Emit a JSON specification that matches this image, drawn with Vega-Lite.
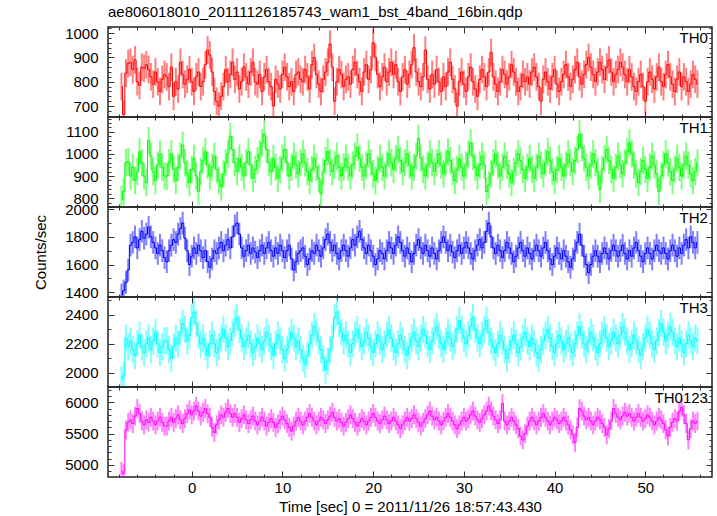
{
"$schema": "https://vega.github.io/schema/vega-lite/v6.json",
"autosize": {"type": "pad"},
"padding": {"left": 32, "top": 5, "right": 0, "bottom": 0},
"background": "white",
"title": {"text": "ae806018010_20111126185743_wam1_bst_4band_16bin.qdp", "anchor": "start", "frame": "group", "fontSize": 15, "fontWeight": "normal", "font": "Liberation Sans", "color": "#000", "offset": 0},
"config": {
  "font": "Liberation Sans",
  "view": {"stroke": "#222", "strokeWidth": 1.5},
  "axis": {"domain": false, "ticks": false, "tickSize": 0, "grid": true, "gridColor": "#333", "gridOpacity": 1, "gridWidth": 1, "labelFont": "Liberation Sans", "labelFontSize": 15, "labelColor": "#000", "labelOverlap": false, "labelFlush": false, "labelBound": false, "titleFont": "Liberation Sans", "titleFontSize": 15, "titleFontWeight": "normal", "titleColor": "#000"},
  "axisX": {"labelPadding": 3, "titlePadding": 4},
  "axisY": {"labelPadding": 10, "titlePadding": 16}
},
"spacing": 0,
"bounds": "flush",
"datasets": {
"err": [{"key": "a", "err": 57}, {"key": "b", "err": 62}, {"key": "c", "err": 82}, {"key": "d", "err": 94}, {"key": "e", "err": 151}],
"labels": [{"key": "a", "lab": "TH0", "lx": 56.9, "ly": 1009}, {"key": "b", "lab": "TH1", "lx": 56.9, "ly": 1149}, {"key": "c", "lab": "TH2", "lx": 56.9, "ly": 1987}, {"key": "d", "lab": "TH3", "lx": 56.9, "ly": 2495}, {"key": "e", "lab": "TH0123", "lx": 56.9, "ly": 6180}],
"lc": [
{"t":-7.75,"a":780,"b":795,"c":1380,"d":1950,"e":4900},
{"t":-7.5,"a":665,"b":830,"c":1410,"d":1980,"e":4860},
{"t":-7.25,"a":835,"b":960,"c":1470,"d":2240,"e":5560},
{"t":-7,"a":875,"b":965,"c":1560,"d":2180,"e":5680},
{"t":-6.75,"a":880,"b":900,"c":1740,"d":2220,"e":5720},
{"t":-6.5,"a":850,"b":940,"c":1760,"d":2160,"e":5660},
{"t":-6.25,"a":890,"b":880,"c":1800,"d":2120,"e":5780},
{"t":-6,"a":800,"b":920,"c":1720,"d":2200,"e":5900},
{"t":-5.75,"a":785,"b":1010,"c":1780,"d":2260,"e":5820},
{"t":-5.5,"a":860,"b":960,"c":1840,"d":2180,"e":5700},
{"t":-5.25,"a":855,"b":900,"c":1790,"d":2140,"e":5640},
{"t":-5,"a":870,"b":870,"c":1820,"d":2200,"e":5720},
{"t":-4.75,"a":850,"b":1060,"c":1870,"d":2240,"e":5680},
{"t":-4.5,"a":820,"b":990,"c":1800,"d":2160,"e":5760},
{"t":-4.25,"a":790,"b":920,"c":1760,"d":2220,"e":5700},
{"t":-4,"a":840,"b":880,"c":1720,"d":2280,"e":5640},
{"t":-3.75,"a":800,"b":950,"c":1680,"d":2200,"e":5700},
{"t":-3.5,"a":760,"b":1000,"c":1740,"d":2140,"e":5760},
{"t":-3.25,"a":810,"b":940,"c":1700,"d":2180,"e":5680},
{"t":-3,"a":830,"b":900,"c":1650,"d":2220,"e":5620},
{"t":-2.75,"a":820,"b":900,"c":1620,"d":2220,"e":5620},
{"t":-2.5,"a":780,"b":960,"c":1700,"d":2160,"e":5700},
{"t":-2.25,"a":860,"b":1000,"c":1740,"d":2100,"e":5760},
{"t":-2,"a":740,"b":930,"c":1780,"d":2180,"e":5680},
{"t":-1.75,"a":800,"b":880,"c":1760,"d":2240,"e":5740},
{"t":-1.5,"a":770,"b":940,"c":1820,"d":2200,"e":5800},
{"t":-1.25,"a":880,"b":990,"c":1860,"d":2280,"e":5720},
{"t":-1,"a":830,"b":1040,"c":1900,"d":2340,"e":5660},
{"t":-0.75,"a":790,"b":960,"c":1790,"d":2300,"e":5740},
{"t":-0.5,"a":810,"b":910,"c":1700,"d":2220,"e":5820},
{"t":-0.25,"a":850,"b":870,"c":1600,"d":2260,"e":5880},
{"t":0,"a":800,"b":930,"c":1660,"d":2380,"e":5800},
{"t":0.25,"a":760,"b":980,"c":1720,"d":2420,"e":5860},
{"t":0.5,"a":820,"b":900,"c":1680,"d":2340,"e":5940},
{"t":0.75,"a":840,"b":830,"c":1740,"d":2260,"e":5860},
{"t":1,"a":780,"b":920,"c":1700,"d":2200,"e":5780},
{"t":1.25,"a":800,"b":970,"c":1650,"d":2240,"e":5840},
{"t":1.5,"a":870,"b":1010,"c":1700,"d":2180,"e":5900},
{"t":1.75,"a":930,"b":950,"c":1620,"d":2120,"e":5820},
{"t":2,"a":910,"b":900,"c":1580,"d":2200,"e":5760},
{"t":2.25,"a":840,"b":940,"c":1640,"d":2260,"e":5600},
{"t":2.5,"a":760,"b":990,"c":1700,"d":2200,"e":5520},
{"t":2.75,"a":720,"b":930,"c":1680,"d":2140,"e":5640},
{"t":3,"a":700,"b":880,"c":1720,"d":2180,"e":5720},
{"t":3.25,"a":740,"b":850,"c":1760,"d":2240,"e":5800},
{"t":3.5,"a":780,"b":910,"c":1700,"d":2300,"e":5760},
{"t":3.75,"a":850,"b":960,"c":1740,"d":2240,"e":5840},
{"t":4,"a":800,"b":1000,"c":1780,"d":2180,"e":5900},
{"t":4.25,"a":830,"b":1080,"c":1720,"d":2220,"e":5820},
{"t":4.5,"a":880,"b":1020,"c":1800,"d":2280,"e":5760},
{"t":4.75,"a":810,"b":960,"c":1880,"d":2340,"e":5820},
{"t":5,"a":840,"b":920,"c":1900,"d":2380,"e":5760},
{"t":5.25,"a":770,"b":980,"c":1820,"d":2300,"e":5680},
{"t":5.5,"a":800,"b":940,"c":1720,"d":2240,"e":5740},
{"t":5.75,"a":860,"b":900,"c":1660,"d":2180,"e":5800},
{"t":6,"a":820,"b":960,"c":1700,"d":2220,"e":5720},
{"t":6.25,"a":790,"b":1010,"c":1740,"d":2260,"e":5660},
{"t":6.5,"a":840,"b":950,"c":1680,"d":2200,"e":5720},
{"t":6.75,"a":880,"b":890,"c":1720,"d":2140,"e":5780},
{"t":7,"a":800,"b":930,"c":1690,"d":2180,"e":5700},
{"t":7.25,"a":790,"b":970,"c":1650,"d":2240,"e":5640},
{"t":7.5,"a":830,"b":1000,"c":1700,"d":2200,"e":5700},
{"t":7.75,"a":760,"b":1050,"c":1740,"d":2160,"e":5760},
{"t":8,"a":820,"b":1090,"c":1680,"d":2220,"e":5700},
{"t":8.25,"a":850,"b":1020,"c":1720,"d":2280,"e":5620},
{"t":8.5,"a":800,"b":960,"c":1760,"d":2240,"e":5680},
{"t":8.75,"a":780,"b":920,"c":1700,"d":2180,"e":5740},
{"t":9,"a":700,"b":980,"c":1660,"d":2120,"e":5680},
{"t":9.25,"a":810,"b":940,"c":1720,"d":2200,"e":5600},
{"t":9.5,"a":790,"b":890,"c":1680,"d":2260,"e":5660},
{"t":9.75,"a":770,"b":930,"c":1740,"d":2220,"e":5720},
{"t":10,"a":830,"b":980,"c":1700,"d":2160,"e":5780},
{"t":10.25,"a":860,"b":1020,"c":1650,"d":2100,"e":5720},
{"t":10.5,"a":820,"b":960,"c":1700,"d":2160,"e":5660},
{"t":10.75,"a":780,"b":900,"c":1740,"d":2220,"e":5600},
{"t":11,"a":800,"b":940,"c":1640,"d":2280,"e":5540},
{"t":11.25,"a":760,"b":990,"c":1560,"d":2240,"e":5620},
{"t":11.5,"a":830,"b":950,"c":1620,"d":2180,"e":5700},
{"t":11.75,"a":840,"b":910,"c":1680,"d":2220,"e":5760},
{"t":12,"a":810,"b":960,"c":1700,"d":2160,"e":5700},
{"t":12.25,"a":800,"b":1000,"c":1720,"d":2100,"e":5640},
{"t":12.5,"a":850,"b":960,"c":1660,"d":2060,"e":5700},
{"t":12.75,"a":820,"b":920,"c":1600,"d":2120,"e":5760},
{"t":13,"a":770,"b":880,"c":1640,"d":2200,"e":5820},
{"t":13.25,"a":870,"b":930,"c":1700,"d":2260,"e":5760},
{"t":13.5,"a":900,"b":980,"c":1680,"d":2320,"e":5700},
{"t":13.75,"a":830,"b":940,"c":1740,"d":2280,"e":5640},
{"t":14,"a":790,"b":890,"c":1700,"d":2220,"e":5700},
{"t":14.25,"a":760,"b":820,"c":1660,"d":2160,"e":5760},
{"t":14.5,"a":810,"b":920,"c":1720,"d":2100,"e":5720},
{"t":14.75,"a":840,"b":970,"c":1780,"d":2020,"e":5660},
{"t":15,"a":880,"b":1010,"c":1820,"d":2080,"e":5720},
{"t":15.25,"a":955,"b":960,"c":1760,"d":2160,"e":5780},
{"t":15.5,"a":860,"b":920,"c":1700,"d":2240,"e":5840},
{"t":15.75,"a":720,"b":950,"c":1740,"d":2380,"e":5760},
{"t":16,"a":800,"b":990,"c":1680,"d":2420,"e":5700},
{"t":16.25,"a":850,"b":940,"c":1640,"d":2340,"e":5740},
{"t":16.5,"a":830,"b":900,"c":1700,"d":2280,"e":5680},
{"t":16.75,"a":780,"b":940,"c":1740,"d":2220,"e":5620},
{"t":17,"a":810,"b":980,"c":1700,"d":2260,"e":5680},
{"t":17.25,"a":820,"b":940,"c":1660,"d":2200,"e":5740},
{"t":17.5,"a":790,"b":900,"c":1720,"d":2140,"e":5800},
{"t":17.75,"a":850,"b":950,"c":1780,"d":2200,"e":5740},
{"t":18,"a":880,"b":990,"c":1740,"d":2260,"e":5680},
{"t":18.25,"a":830,"b":1030,"c":1800,"d":2300,"e":5620},
{"t":18.5,"a":800,"b":980,"c":1840,"d":2240,"e":5680},
{"t":18.75,"a":760,"b":940,"c":1780,"d":2180,"e":5740},
{"t":19,"a":840,"b":900,"c":1720,"d":2220,"e":5700},
{"t":19.25,"a":870,"b":950,"c":1680,"d":2280,"e":5640},
{"t":19.5,"a":810,"b":1000,"c":1740,"d":2240,"e":5700},
{"t":19.75,"a":850,"b":960,"c":1700,"d":2180,"e":5760},
{"t":20,"a":960,"b":910,"c":1660,"d":2140,"e":5820},
{"t":20.25,"a":900,"b":880,"c":1600,"d":2200,"e":5760},
{"t":20.5,"a":830,"b":930,"c":1640,"d":2260,"e":5700},
{"t":20.75,"a":780,"b":980,"c":1700,"d":2220,"e":5660},
{"t":21,"a":820,"b":940,"c":1680,"d":2160,"e":5720},
{"t":21.25,"a":860,"b":900,"c":1640,"d":2200,"e":5780},
{"t":21.5,"a":800,"b":950,"c":1700,"d":2260,"e":5720},
{"t":21.75,"a":840,"b":1000,"c":1760,"d":2300,"e":5660},
{"t":22,"a":880,"b":960,"c":1720,"d":2240,"e":5700},
{"t":22.25,"a":830,"b":930,"c":1680,"d":2180,"e":5760},
{"t":22.5,"a":870,"b":980,"c":1740,"d":2140,"e":5700},
{"t":22.75,"a":800,"b":1020,"c":1800,"d":2200,"e":5640},
{"t":23,"a":760,"b":970,"c":1760,"d":2260,"e":5580},
{"t":23.25,"a":820,"b":920,"c":1700,"d":2220,"e":5640},
{"t":23.5,"a":850,"b":960,"c":1660,"d":2160,"e":5700},
{"t":23.75,"a":790,"b":1000,"c":1720,"d":2120,"e":5760},
{"t":24,"a":830,"b":950,"c":1680,"d":2180,"e":5700},
{"t":24.25,"a":870,"b":900,"c":1620,"d":2240,"e":5740},
{"t":24.5,"a":940,"b":940,"c":1680,"d":2280,"e":5800},
{"t":24.75,"a":840,"b":990,"c":1740,"d":2220,"e":5740},
{"t":25,"a":800,"b":1070,"c":1780,"d":2180,"e":5680},
{"t":25.25,"a":780,"b":980,"c":1720,"d":2240,"e":5620},
{"t":25.5,"a":820,"b":930,"c":1680,"d":2300,"e":5680},
{"t":25.75,"a":930,"b":900,"c":1740,"d":2260,"e":5740},
{"t":26,"a":810,"b":950,"c":1700,"d":2200,"e":5800},
{"t":26.25,"a":770,"b":1000,"c":1660,"d":2160,"e":5860},
{"t":26.5,"a":830,"b":960,"c":1720,"d":2220,"e":5780},
{"t":26.75,"a":790,"b":920,"c":1680,"d":2280,"e":5720},
{"t":27,"a":850,"b":960,"c":1640,"d":2320,"e":5760},
{"t":27.25,"a":800,"b":1000,"c":1700,"d":2260,"e":5700},
{"t":27.5,"a":760,"b":950,"c":1760,"d":2200,"e":5640},
{"t":27.75,"a":820,"b":910,"c":1800,"d":2160,"e":5700},
{"t":28,"a":780,"b":960,"c":1760,"d":2220,"e":5760},
{"t":28.25,"a":840,"b":1010,"c":1700,"d":2280,"e":5820},
{"t":28.5,"a":880,"b":970,"c":1740,"d":2240,"e":5760},
{"t":28.75,"a":810,"b":920,"c":1690,"d":2180,"e":5700},
{"t":29,"a":770,"b":880,"c":1650,"d":2220,"e":5640},
{"t":29.25,"a":700,"b":930,"c":1700,"d":2300,"e":5580},
{"t":29.5,"a":800,"b":980,"c":1740,"d":2360,"e":5640},
{"t":29.75,"a":840,"b":940,"c":1680,"d":2300,"e":5700},
{"t":30,"a":790,"b":900,"c":1720,"d":2240,"e":5760},
{"t":30.25,"a":760,"b":950,"c":1760,"d":2200,"e":5700},
{"t":30.5,"a":820,"b":1000,"c":1720,"d":2260,"e":5740},
{"t":30.75,"a":860,"b":1050,"c":1680,"d":2320,"e":5800},
{"t":31,"a":800,"b":990,"c":1640,"d":2380,"e":5860},
{"t":31.25,"a":770,"b":940,"c":1700,"d":2300,"e":5780},
{"t":31.5,"a":740,"b":900,"c":1740,"d":2240,"e":5720},
{"t":31.75,"a":810,"b":950,"c":1780,"d":2200,"e":5680},
{"t":32,"a":850,"b":990,"c":1720,"d":2260,"e":5740},
{"t":32.25,"a":820,"b":950,"c":1760,"d":2300,"e":5800},
{"t":32.5,"a":780,"b":830,"c":1840,"d":2360,"e":5860},
{"t":32.75,"a":840,"b":860,"c":1900,"d":2280,"e":5940},
{"t":33,"a":920,"b":910,"c":1800,"d":2220,"e":5860},
{"t":33.25,"a":820,"b":960,"c":1720,"d":2180,"e":5780},
{"t":33.5,"a":790,"b":1000,"c":1680,"d":2140,"e":5720},
{"t":33.75,"a":760,"b":950,"c":1740,"d":2200,"e":5660},
{"t":34,"a":800,"b":900,"c":1700,"d":2260,"e":5720},
{"t":34.25,"a":850,"b":940,"c":1650,"d":2220,"e":5980},
{"t":34.5,"a":830,"b":990,"c":1700,"d":2160,"e":5700},
{"t":34.75,"a":790,"b":950,"c":1760,"d":2100,"e":5640},
{"t":35,"a":820,"b":910,"c":1720,"d":2160,"e":5700},
{"t":35.25,"a":870,"b":870,"c":1680,"d":2220,"e":5760},
{"t":35.5,"a":840,"b":920,"c":1620,"d":2260,"e":5700},
{"t":35.75,"a":800,"b":960,"c":1660,"d":2200,"e":5640},
{"t":36,"a":760,"b":1000,"c":1720,"d":2140,"e":5580},
{"t":36.25,"a":780,"b":970,"c":1760,"d":2180,"e":5460},
{"t":36.5,"a":830,"b":930,"c":1700,"d":2240,"e":5400},
{"t":36.75,"a":800,"b":890,"c":1660,"d":2280,"e":5500},
{"t":37,"a":820,"b":940,"c":1720,"d":2220,"e":5620},
{"t":37.25,"a":790,"b":980,"c":1680,"d":2180,"e":5700},
{"t":37.5,"a":840,"b":930,"c":1640,"d":2240,"e":5760},
{"t":37.75,"a":860,"b":890,"c":1700,"d":2200,"e":5700},
{"t":38,"a":820,"b":940,"c":1740,"d":2140,"e":5640},
{"t":38.25,"a":780,"b":990,"c":1700,"d":2100,"e":5700},
{"t":38.5,"a":720,"b":950,"c":1660,"d":2160,"e":5760},
{"t":38.75,"a":810,"b":910,"c":1720,"d":2220,"e":5820},
{"t":39,"a":840,"b":960,"c":1760,"d":2260,"e":5760},
{"t":39.25,"a":800,"b":1010,"c":1700,"d":2300,"e":5700},
{"t":39.5,"a":770,"b":970,"c":1640,"d":2240,"e":5640},
{"t":39.75,"a":820,"b":920,"c":1600,"d":2180,"e":5700},
{"t":40,"a":850,"b":880,"c":1660,"d":2140,"e":5760},
{"t":40.25,"a":790,"b":930,"c":1720,"d":2200,"e":5720},
{"t":40.5,"a":760,"b":980,"c":1680,"d":2260,"e":5660},
{"t":40.75,"a":800,"b":940,"c":1640,"d":2220,"e":5700},
{"t":41,"a":830,"b":900,"c":1700,"d":2160,"e":5760},
{"t":41.25,"a":870,"b":950,"c":1660,"d":2200,"e":5700},
{"t":41.5,"a":820,"b":1000,"c":1620,"d":2240,"e":5640},
{"t":41.75,"a":780,"b":960,"c":1580,"d":2180,"e":5560},
{"t":42,"a":810,"b":920,"c":1640,"d":2140,"e":5480},
{"t":42.25,"a":850,"b":970,"c":1700,"d":2200,"e":5360},
{"t":42.5,"a":880,"b":1020,"c":1760,"d":2260,"e":5600},
{"t":42.75,"a":820,"b":1090,"c":1820,"d":2320,"e":5900},
{"t":43,"a":790,"b":1030,"c":1740,"d":2260,"e":5860},
{"t":43.25,"a":830,"b":980,"c":1660,"d":2200,"e":5780},
{"t":43.5,"a":870,"b":940,"c":1600,"d":2160,"e":5720},
{"t":43.75,"a":900,"b":900,"c":1540,"d":2220,"e":5760},
{"t":44,"a":860,"b":950,"c":1600,"d":2280,"e":5700},
{"t":44.25,"a":830,"b":1000,"c":1660,"d":2240,"e":5640},
{"t":44.5,"a":800,"b":960,"c":1700,"d":2180,"e":5700},
{"t":44.75,"a":840,"b":920,"c":1660,"d":2140,"e":5760},
{"t":45,"a":880,"b":840,"c":1620,"d":2200,"e":5720},
{"t":45.25,"a":850,"b":930,"c":1680,"d":2260,"e":5660},
{"t":45.5,"a":810,"b":980,"c":1720,"d":2300,"e":5600},
{"t":45.75,"a":860,"b":1020,"c":1680,"d":2240,"e":5480},
{"t":46,"a":890,"b":970,"c":1640,"d":2180,"e":5580},
{"t":46.25,"a":840,"b":930,"c":1700,"d":2220,"e":5700},
{"t":46.5,"a":800,"b":890,"c":1740,"d":2280,"e":5900},
{"t":46.75,"a":830,"b":940,"c":1700,"d":2240,"e":5820},
{"t":47,"a":850,"b":990,"c":1660,"d":2200,"e":5760},
{"t":47.25,"a":880,"b":950,"c":1700,"d":2260,"e":5720},
{"t":47.5,"a":860,"b":910,"c":1740,"d":2320,"e":5780},
{"t":47.75,"a":830,"b":960,"c":1680,"d":2280,"e":5840},
{"t":48,"a":800,"b":1010,"c":1640,"d":2220,"e":5780},
{"t":48.25,"a":850,"b":1050,"c":1700,"d":2160,"e":5820},
{"t":48.5,"a":820,"b":1000,"c":1660,"d":2200,"e":5760},
{"t":48.75,"a":780,"b":950,"c":1720,"d":2260,"e":5700},
{"t":49,"a":760,"b":910,"c":1760,"d":2220,"e":5760},
{"t":49.25,"a":800,"b":870,"c":1700,"d":2160,"e":5820},
{"t":49.5,"a":830,"b":920,"c":1660,"d":2120,"e":5760},
{"t":49.75,"a":780,"b":970,"c":1620,"d":2180,"e":5700},
{"t":50,"a":720,"b":930,"c":1680,"d":2240,"e":5740},
{"t":50.25,"a":800,"b":890,"c":1720,"d":2300,"e":5800},
{"t":50.5,"a":840,"b":940,"c":1680,"d":2260,"e":5760},
{"t":50.75,"a":810,"b":990,"c":1640,"d":2200,"e":5700},
{"t":51,"a":770,"b":950,"c":1700,"d":2160,"e":5640},
{"t":51.25,"a":820,"b":910,"c":1740,"d":2220,"e":5700},
{"t":51.5,"a":860,"b":830,"c":1700,"d":2280,"e":5760},
{"t":51.75,"a":800,"b":900,"c":1680,"d":2340,"e":5720},
{"t":52,"a":780,"b":950,"c":1720,"d":2280,"e":5660},
{"t":52.25,"a":830,"b":1000,"c":1680,"d":2220,"e":5560},
{"t":52.5,"a":870,"b":960,"c":1640,"d":2260,"e":5460},
{"t":52.75,"a":820,"b":920,"c":1700,"d":2320,"e":5600},
{"t":53,"a":790,"b":880,"c":1740,"d":2280,"e":5680},
{"t":53.25,"a":760,"b":930,"c":1700,"d":2220,"e":5740},
{"t":53.5,"a":810,"b":980,"c":1660,"d":2180,"e":5700},
{"t":53.75,"a":840,"b":940,"c":1720,"d":2240,"e":5860},
{"t":54,"a":780,"b":900,"c":1680,"d":2200,"e":5920},
{"t":54.25,"a":820,"b":950,"c":1740,"d":2140,"e":5800},
{"t":54.5,"a":800,"b":990,"c":1780,"d":2200,"e":5660},
{"t":54.75,"a":760,"b":950,"c":1720,"d":2260,"e":5400},
{"t":55,"a":790,"b":910,"c":1800,"d":2220,"e":5580},
{"t":55.25,"a":830,"b":880,"c":1760,"d":2180,"e":5700},
{"t":55.5,"a":810,"b":920,"c":1720,"d":2240,"e":5660},
{"t":55.75,"a":790,"b":960,"c":1760,"d":2220,"e":5700}
]
},
"vconcat": [
{
  "width": 604, "height": 90,
  "layer": [
    {"data": {"name": "lc"},
     "transform": [{"fold": ["a"], "as": ["key", "value"]}, {"lookup": "key", "from": {"data": {"name": "err"}, "key": "key", "fields": ["err"]}}],
     "mark": {"type": "errorbar", "color": "#ff0000", "opacity": 0.5, "thickness": 2, "clip": true},
     "encoding": {
       "x": {"field": "t", "type": "quantitative", "scale": {"domain": [-9.23, 57.35], "nice": false, "zero": false},
             "axis": {"title": null, "labels": false, "values": [-8,-6,-4,-2,0,2,4,6,8,10,12,14,16,18,20,22,24,26,28,30,32,34,36,38,40,42,44,46,48,50,52,54,56], "gridDash": {"condition": {"test": "datum.value % 10 === 0", "value": [6, 78, 6]}, "value": [3, 84, 3]}}},
       "y": {"field": "value", "type": "quantitative", "scale": {"domain": [655, 1025], "nice": false, "zero": false},
             "axis": {"title": null, "format": "d", "values": [660,680,700,720,740,760,780,800,820,840,860,880,900,920,940,960,980,1000,1020], "labelExpr": "datum.value % 100 === 0 ? datum.label : ''", "gridDash": {"condition": {"test": "datum.value % 100 === 0", "value": [6, 592, 6]}, "value": [3, 598, 3]}}},
       "yError": {"field": "err"}}},
    {"data": {"name": "lc"},
     "transform": [{"fold": ["a"], "as": ["key", "value"]}],
     "mark": {"type": "line", "interpolate": "step", "color": "#ff0000", "strokeWidth": 1, "clip": true},
     "encoding": {
       "x": {"field": "t", "type": "quantitative", "scale": {"domain": [-9.23, 57.35], "nice": false, "zero": false},
             "axis": {"title": null, "labels": false, "values": [-8,-6,-4,-2,0,2,4,6,8,10,12,14,16,18,20,22,24,26,28,30,32,34,36,38,40,42,44,46,48,50,52,54,56], "gridDash": {"condition": {"test": "datum.value % 10 === 0", "value": [6, 78, 6]}, "value": [3, 84, 3]}}},
       "y": {"field": "value", "type": "quantitative", "scale": {"domain": [655, 1025], "nice": false, "zero": false},
             "axis": {"title": null, "format": "d", "values": [660,680,700,720,740,760,780,800,820,840,860,880,900,920,940,960,980,1000,1020], "labelExpr": "datum.value % 100 === 0 ? datum.label : ''", "gridDash": {"condition": {"test": "datum.value % 100 === 0", "value": [6, 592, 6]}, "value": [3, 598, 3]}}}}},
    {"data": {"name": "labels"},
     "transform": [{"filter": "datum.key === 'a'"}],
     "mark": {"type": "text", "align": "right", "baseline": "top", "fontSize": 15, "font": "Liberation Sans", "color": "#000"},
     "encoding": {
       "x": {"field": "lx", "type": "quantitative", "scale": {"domain": [-9.23, 57.35], "nice": false, "zero": false},
             "axis": {"title": null, "labels": false, "values": [-8,-6,-4,-2,0,2,4,6,8,10,12,14,16,18,20,22,24,26,28,30,32,34,36,38,40,42,44,46,48,50,52,54,56], "gridDash": {"condition": {"test": "datum.value % 10 === 0", "value": [6, 78, 6]}, "value": [3, 84, 3]}}},
       "y": {"field": "ly", "type": "quantitative", "scale": {"domain": [655, 1025], "nice": false, "zero": false},
             "axis": {"title": null, "format": "d", "values": [660,680,700,720,740,760,780,800,820,840,860,880,900,920,940,960,980,1000,1020], "labelExpr": "datum.value % 100 === 0 ? datum.label : ''", "gridDash": {"condition": {"test": "datum.value % 100 === 0", "value": [6, 592, 6]}, "value": [3, 598, 3]}}},
       "text": {"field": "lab", "type": "nominal"}}}
  ]
},
{
  "width": 604, "height": 90,
  "layer": [
    {"data": {"name": "lc"},
     "transform": [{"fold": ["b"], "as": ["key", "value"]}, {"lookup": "key", "from": {"data": {"name": "err"}, "key": "key", "fields": ["err"]}}],
     "mark": {"type": "errorbar", "color": "#00ff00", "opacity": 0.5, "thickness": 2, "clip": true},
     "encoding": {
       "x": {"field": "t", "type": "quantitative", "scale": {"domain": [-9.23, 57.35], "nice": false, "zero": false},
             "axis": {"title": null, "labels": false, "values": [-8,-6,-4,-2,0,2,4,6,8,10,12,14,16,18,20,22,24,26,28,30,32,34,36,38,40,42,44,46,48,50,52,54,56], "gridDash": {"condition": {"test": "datum.value % 10 === 0", "value": [6, 78, 6]}, "value": [3, 84, 3]}}},
       "y": {"field": "value", "type": "quantitative", "scale": {"domain": [760, 1167], "nice": false, "zero": false},
             "axis": {"title": null, "format": "d", "values": [760,780,800,820,840,860,880,900,920,940,960,980,1000,1020,1040,1060,1080,1100,1120,1140,1160], "labelExpr": "datum.value % 100 === 0 ? datum.label : ''", "gridDash": {"condition": {"test": "datum.value % 100 === 0", "value": [6, 592, 6]}, "value": [3, 598, 3]}}},
       "yError": {"field": "err"}}},
    {"data": {"name": "lc"},
     "transform": [{"fold": ["b"], "as": ["key", "value"]}],
     "mark": {"type": "line", "interpolate": "step", "color": "#00ff00", "strokeWidth": 1, "clip": true},
     "encoding": {
       "x": {"field": "t", "type": "quantitative", "scale": {"domain": [-9.23, 57.35], "nice": false, "zero": false},
             "axis": {"title": null, "labels": false, "values": [-8,-6,-4,-2,0,2,4,6,8,10,12,14,16,18,20,22,24,26,28,30,32,34,36,38,40,42,44,46,48,50,52,54,56], "gridDash": {"condition": {"test": "datum.value % 10 === 0", "value": [6, 78, 6]}, "value": [3, 84, 3]}}},
       "y": {"field": "value", "type": "quantitative", "scale": {"domain": [760, 1167], "nice": false, "zero": false},
             "axis": {"title": null, "format": "d", "values": [760,780,800,820,840,860,880,900,920,940,960,980,1000,1020,1040,1060,1080,1100,1120,1140,1160], "labelExpr": "datum.value % 100 === 0 ? datum.label : ''", "gridDash": {"condition": {"test": "datum.value % 100 === 0", "value": [6, 592, 6]}, "value": [3, 598, 3]}}}}},
    {"data": {"name": "labels"},
     "transform": [{"filter": "datum.key === 'b'"}],
     "mark": {"type": "text", "align": "right", "baseline": "top", "fontSize": 15, "font": "Liberation Sans", "color": "#000"},
     "encoding": {
       "x": {"field": "lx", "type": "quantitative", "scale": {"domain": [-9.23, 57.35], "nice": false, "zero": false},
             "axis": {"title": null, "labels": false, "values": [-8,-6,-4,-2,0,2,4,6,8,10,12,14,16,18,20,22,24,26,28,30,32,34,36,38,40,42,44,46,48,50,52,54,56], "gridDash": {"condition": {"test": "datum.value % 10 === 0", "value": [6, 78, 6]}, "value": [3, 84, 3]}}},
       "y": {"field": "ly", "type": "quantitative", "scale": {"domain": [760, 1167], "nice": false, "zero": false},
             "axis": {"title": null, "format": "d", "values": [760,780,800,820,840,860,880,900,920,940,960,980,1000,1020,1040,1060,1080,1100,1120,1140,1160], "labelExpr": "datum.value % 100 === 0 ? datum.label : ''", "gridDash": {"condition": {"test": "datum.value % 100 === 0", "value": [6, 592, 6]}, "value": [3, 598, 3]}}},
       "text": {"field": "lab", "type": "nominal"}}}
  ]
},
{
  "width": 604, "height": 90,
  "layer": [
    {"data": {"name": "lc"},
     "transform": [{"fold": ["c"], "as": ["key", "value"]}, {"lookup": "key", "from": {"data": {"name": "err"}, "key": "key", "fields": ["err"]}}],
     "mark": {"type": "errorbar", "color": "#0000ff", "opacity": 0.5, "thickness": 2, "clip": true},
     "encoding": {
       "x": {"field": "t", "type": "quantitative", "scale": {"domain": [-9.23, 57.35], "nice": false, "zero": false},
             "axis": {"title": null, "labels": false, "values": [-8,-6,-4,-2,0,2,4,6,8,10,12,14,16,18,20,22,24,26,28,30,32,34,36,38,40,42,44,46,48,50,52,54,56], "gridDash": {"condition": {"test": "datum.value % 10 === 0", "value": [6, 78, 6]}, "value": [3, 84, 3]}}},
       "y": {"field": "value", "type": "quantitative", "scale": {"domain": [1365, 2016], "nice": false, "zero": false},
             "axis": {"title": "Counts/sec", "format": "d", "values": [1400,1500,1600,1700,1800,1900,2000], "labelExpr": "datum.value % 200 === 0 ? datum.label : ''", "gridDash": {"condition": {"test": "datum.value % 200 === 0", "value": [6, 592, 6]}, "value": [3, 598, 3]}}},
       "yError": {"field": "err"}}},
    {"data": {"name": "lc"},
     "transform": [{"fold": ["c"], "as": ["key", "value"]}],
     "mark": {"type": "line", "interpolate": "step", "color": "#0000ff", "strokeWidth": 1, "clip": true},
     "encoding": {
       "x": {"field": "t", "type": "quantitative", "scale": {"domain": [-9.23, 57.35], "nice": false, "zero": false},
             "axis": {"title": null, "labels": false, "values": [-8,-6,-4,-2,0,2,4,6,8,10,12,14,16,18,20,22,24,26,28,30,32,34,36,38,40,42,44,46,48,50,52,54,56], "gridDash": {"condition": {"test": "datum.value % 10 === 0", "value": [6, 78, 6]}, "value": [3, 84, 3]}}},
       "y": {"field": "value", "type": "quantitative", "scale": {"domain": [1365, 2016], "nice": false, "zero": false},
             "axis": {"title": "Counts/sec", "format": "d", "values": [1400,1500,1600,1700,1800,1900,2000], "labelExpr": "datum.value % 200 === 0 ? datum.label : ''", "gridDash": {"condition": {"test": "datum.value % 200 === 0", "value": [6, 592, 6]}, "value": [3, 598, 3]}}}}},
    {"data": {"name": "labels"},
     "transform": [{"filter": "datum.key === 'c'"}],
     "mark": {"type": "text", "align": "right", "baseline": "top", "fontSize": 15, "font": "Liberation Sans", "color": "#000"},
     "encoding": {
       "x": {"field": "lx", "type": "quantitative", "scale": {"domain": [-9.23, 57.35], "nice": false, "zero": false},
             "axis": {"title": null, "labels": false, "values": [-8,-6,-4,-2,0,2,4,6,8,10,12,14,16,18,20,22,24,26,28,30,32,34,36,38,40,42,44,46,48,50,52,54,56], "gridDash": {"condition": {"test": "datum.value % 10 === 0", "value": [6, 78, 6]}, "value": [3, 84, 3]}}},
       "y": {"field": "ly", "type": "quantitative", "scale": {"domain": [1365, 2016], "nice": false, "zero": false},
             "axis": {"title": "Counts/sec", "format": "d", "values": [1400,1500,1600,1700,1800,1900,2000], "labelExpr": "datum.value % 200 === 0 ? datum.label : ''", "gridDash": {"condition": {"test": "datum.value % 200 === 0", "value": [6, 592, 6]}, "value": [3, 598, 3]}}},
       "text": {"field": "lab", "type": "nominal"}}}
  ]
},
{
  "width": 604, "height": 90,
  "layer": [
    {"data": {"name": "lc"},
     "transform": [{"fold": ["d"], "as": ["key", "value"]}, {"lookup": "key", "from": {"data": {"name": "err"}, "key": "key", "fields": ["err"]}}],
     "mark": {"type": "errorbar", "color": "#00ffff", "opacity": 0.5, "thickness": 2, "clip": true},
     "encoding": {
       "x": {"field": "t", "type": "quantitative", "scale": {"domain": [-9.23, 57.35], "nice": false, "zero": false},
             "axis": {"title": null, "labels": false, "values": [-8,-6,-4,-2,0,2,4,6,8,10,12,14,16,18,20,22,24,26,28,30,32,34,36,38,40,42,44,46,48,50,52,54,56], "gridDash": {"condition": {"test": "datum.value % 10 === 0", "value": [6, 78, 6]}, "value": [3, 84, 3]}}},
       "y": {"field": "value", "type": "quantitative", "scale": {"domain": [1902, 2523], "nice": false, "zero": false},
             "axis": {"title": null, "format": "d", "values": [2000,2100,2200,2300,2400,2500], "labelExpr": "datum.value % 200 === 0 ? datum.label : ''", "gridDash": {"condition": {"test": "datum.value % 200 === 0", "value": [6, 592, 6]}, "value": [3, 598, 3]}}},
       "yError": {"field": "err"}}},
    {"data": {"name": "lc"},
     "transform": [{"fold": ["d"], "as": ["key", "value"]}],
     "mark": {"type": "line", "interpolate": "step", "color": "#00ffff", "strokeWidth": 1, "clip": true},
     "encoding": {
       "x": {"field": "t", "type": "quantitative", "scale": {"domain": [-9.23, 57.35], "nice": false, "zero": false},
             "axis": {"title": null, "labels": false, "values": [-8,-6,-4,-2,0,2,4,6,8,10,12,14,16,18,20,22,24,26,28,30,32,34,36,38,40,42,44,46,48,50,52,54,56], "gridDash": {"condition": {"test": "datum.value % 10 === 0", "value": [6, 78, 6]}, "value": [3, 84, 3]}}},
       "y": {"field": "value", "type": "quantitative", "scale": {"domain": [1902, 2523], "nice": false, "zero": false},
             "axis": {"title": null, "format": "d", "values": [2000,2100,2200,2300,2400,2500], "labelExpr": "datum.value % 200 === 0 ? datum.label : ''", "gridDash": {"condition": {"test": "datum.value % 200 === 0", "value": [6, 592, 6]}, "value": [3, 598, 3]}}}}},
    {"data": {"name": "labels"},
     "transform": [{"filter": "datum.key === 'd'"}],
     "mark": {"type": "text", "align": "right", "baseline": "top", "fontSize": 15, "font": "Liberation Sans", "color": "#000"},
     "encoding": {
       "x": {"field": "lx", "type": "quantitative", "scale": {"domain": [-9.23, 57.35], "nice": false, "zero": false},
             "axis": {"title": null, "labels": false, "values": [-8,-6,-4,-2,0,2,4,6,8,10,12,14,16,18,20,22,24,26,28,30,32,34,36,38,40,42,44,46,48,50,52,54,56], "gridDash": {"condition": {"test": "datum.value % 10 === 0", "value": [6, 78, 6]}, "value": [3, 84, 3]}}},
       "y": {"field": "ly", "type": "quantitative", "scale": {"domain": [1902, 2523], "nice": false, "zero": false},
             "axis": {"title": null, "format": "d", "values": [2000,2100,2200,2300,2400,2500], "labelExpr": "datum.value % 200 === 0 ? datum.label : ''", "gridDash": {"condition": {"test": "datum.value % 200 === 0", "value": [6, 592, 6]}, "value": [3, 598, 3]}}},
       "text": {"field": "lab", "type": "nominal"}}}
  ]
},
{
  "width": 604, "height": 90,
  "layer": [
    {"data": {"name": "lc"},
     "transform": [{"fold": ["e"], "as": ["key", "value"]}, {"lookup": "key", "from": {"data": {"name": "err"}, "key": "key", "fields": ["err"]}}],
     "mark": {"type": "errorbar", "color": "#ff00ff", "opacity": 0.5, "thickness": 2, "clip": true},
     "encoding": {
       "x": {"field": "t", "type": "quantitative", "scale": {"domain": [-9.23, 57.35], "nice": false, "zero": false},
             "axis": {"title": "Time [sec] 0 = 2011/11/26 18:57:43.430", "values": [-8,-6,-4,-2,0,2,4,6,8,10,12,14,16,18,20,22,24,26,28,30,32,34,36,38,40,42,44,46,48,50,52,54,56], "labelExpr": "datum.value % 10 === 0 ? datum.label : ''", "gridDash": {"condition": {"test": "datum.value % 10 === 0", "value": [6, 78, 6]}, "value": [3, 84, 3]}}},
       "y": {"field": "value", "type": "quantitative", "scale": {"domain": [4808, 6244], "nice": false, "zero": false},
             "axis": {"title": null, "format": "d", "values": [4900,5000,5100,5200,5300,5400,5500,5600,5700,5800,5900,6000,6100,6200], "labelExpr": "datum.value % 500 === 0 ? datum.label : ''", "gridDash": {"condition": {"test": "datum.value % 500 === 0", "value": [6, 592, 6]}, "value": [3, 598, 3]}}},
       "yError": {"field": "err"}}},
    {"data": {"name": "lc"},
     "transform": [{"fold": ["e"], "as": ["key", "value"]}],
     "mark": {"type": "line", "interpolate": "step", "color": "#ff00ff", "strokeWidth": 1, "clip": true},
     "encoding": {
       "x": {"field": "t", "type": "quantitative", "scale": {"domain": [-9.23, 57.35], "nice": false, "zero": false},
             "axis": {"title": "Time [sec] 0 = 2011/11/26 18:57:43.430", "values": [-8,-6,-4,-2,0,2,4,6,8,10,12,14,16,18,20,22,24,26,28,30,32,34,36,38,40,42,44,46,48,50,52,54,56], "labelExpr": "datum.value % 10 === 0 ? datum.label : ''", "gridDash": {"condition": {"test": "datum.value % 10 === 0", "value": [6, 78, 6]}, "value": [3, 84, 3]}}},
       "y": {"field": "value", "type": "quantitative", "scale": {"domain": [4808, 6244], "nice": false, "zero": false},
             "axis": {"title": null, "format": "d", "values": [4900,5000,5100,5200,5300,5400,5500,5600,5700,5800,5900,6000,6100,6200], "labelExpr": "datum.value % 500 === 0 ? datum.label : ''", "gridDash": {"condition": {"test": "datum.value % 500 === 0", "value": [6, 592, 6]}, "value": [3, 598, 3]}}}}},
    {"data": {"name": "labels"},
     "transform": [{"filter": "datum.key === 'e'"}],
     "mark": {"type": "text", "align": "right", "baseline": "top", "fontSize": 15, "font": "Liberation Sans", "color": "#000"},
     "encoding": {
       "x": {"field": "lx", "type": "quantitative", "scale": {"domain": [-9.23, 57.35], "nice": false, "zero": false},
             "axis": {"title": "Time [sec] 0 = 2011/11/26 18:57:43.430", "values": [-8,-6,-4,-2,0,2,4,6,8,10,12,14,16,18,20,22,24,26,28,30,32,34,36,38,40,42,44,46,48,50,52,54,56], "labelExpr": "datum.value % 10 === 0 ? datum.label : ''", "gridDash": {"condition": {"test": "datum.value % 10 === 0", "value": [6, 78, 6]}, "value": [3, 84, 3]}}},
       "y": {"field": "ly", "type": "quantitative", "scale": {"domain": [4808, 6244], "nice": false, "zero": false},
             "axis": {"title": null, "format": "d", "values": [4900,5000,5100,5200,5300,5400,5500,5600,5700,5800,5900,6000,6100,6200], "labelExpr": "datum.value % 500 === 0 ? datum.label : ''", "gridDash": {"condition": {"test": "datum.value % 500 === 0", "value": [6, 592, 6]}, "value": [3, 598, 3]}}},
       "text": {"field": "lab", "type": "nominal"}}}
  ]
}
]
}
